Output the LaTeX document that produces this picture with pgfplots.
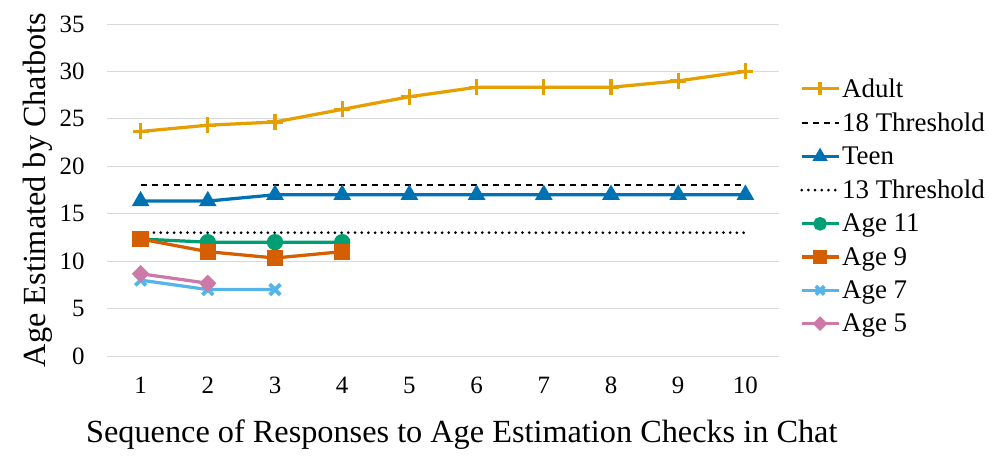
\documentclass[border=0pt]{standalone}
\usepackage{fontspec}
\setmainfont{Liberation Serif}
\usepackage{pgfplots}
\pgfplotsset{compat=1.18}

\definecolor{cAdult}{HTML}{E69F00}
\definecolor{cTeen}{HTML}{0072B2}
\definecolor{cEleven}{HTML}{009E73}
\definecolor{cNine}{HTML}{D55E00}
\definecolor{cSeven}{HTML}{56B4E9}
\definecolor{cFive}{HTML}{CC79A7}
\definecolor{gridgray}{HTML}{D9D9D9}

\begin{document}
\begin{tikzpicture}
\path[use as bounding box] (-107bp,-103bp) rectangle (889bp,356bp);
\begin{axis}[
    scale only axis,
    width=672bp, height=332bp,
    xmin=0.5, xmax=10.5,
    ymin=0, ymax=35,
    xtick={1,...,10},
    ytick={0,5,...,35},
    axis line style={draw=none},
    major tick length=0pt,
    ymajorgrids,
    grid style={draw=gridgray, line width=1bp},
    tick label style={font=\fontsize{25}{29}\selectfont},
    /pgf/number format/assume math mode=true,
    yticklabel style={xshift=-19bp},
    xticklabel style={anchor=base, yshift=-37bp},
    xlabel={Sequence of Responses to Age Estimation Checks in Chat},
    ylabel={Age Estimated by Chatbots},
    label style={font=\fontsize{32.4}{36}\selectfont},
    xlabel style={at={(axis description cs:0.528,-0.262)}, anchor=base},
    ylabel style={at={(axis description cs:-0.092,0.5)}, anchor=base},
    legend style={at={(axis description cs:1.031,0.842)}, anchor=north west,
        draw=none, fill=none, font=\fontsize{27}{31}\selectfont,
        row sep=10bp, inner sep=0pt},
    legend cell align=left,
    legend image code/.code={
        \draw[mark repeat=2, mark phase=2,
            /tikz/every mark/.append style={scale=0.8}]
        plot coordinates {(0cm,0cm) (0.65cm,0cm) (1.3cm,0cm)};
    },
]
% Adult
\addplot[cAdult, line width=3.25bp, mark=+, mark size=8bp,
    mark options={line width=3.25bp}]
coordinates {(1,23.67) (2,24.33) (3,24.67) (4,26) (5,27.33) (6,28.33) (7,28.33) (8,28.33) (9,29) (10,30)};
\addlegendentry{Adult}
% 18 threshold
\addplot[black, line width=2bp, dash pattern=on 6.5bp off 4.5bp]
coordinates {(1,18) (10,18)};
\addlegendentry{18 Threshold}
% Teen
\addplot[cTeen, line width=3.25bp, mark=triangle*, mark size=7bp]
coordinates {(1,16.33) (2,16.33) (3,17) (4,17) (5,17) (6,17) (7,17) (8,17) (9,17) (10,17)};
\addlegendentry{Teen}
% 13 threshold
\addplot[black, line width=3bp, dash pattern=on 0bp off 6.7bp, line cap=round]
coordinates {(1,13) (10,13)};
\addlegendentry{13 Threshold}
% Age 11
\addplot[cEleven, line width=3.25bp, mark=*, mark size=6.5bp]
coordinates {(1,12.33) (2,12) (3,12) (4,12)};
\addlegendentry{Age 11}
% Age 9
\addplot[cNine, line width=3.25bp, mark=square*, mark size=6.5bp]
coordinates {(1,12.33) (2,11) (3,10.33) (4,11)};
\addlegendentry{Age 9}
% Age 7
\addplot[cSeven, line width=3.25bp, mark=x, mark size=7.5bp,
    mark options={line width=3.75bp}]
coordinates {(1,8) (2,7) (3,7)};
\addlegendentry{Age 7}
% Age 5
\addplot[cFive, line width=3.25bp, mark=square*, mark size=4.5bp,
    mark options={rotate=45}]
coordinates {(1,8.67) (2,7.67)};
\addlegendentry{Age 5}
\end{axis}
\end{tikzpicture}
\end{document}
